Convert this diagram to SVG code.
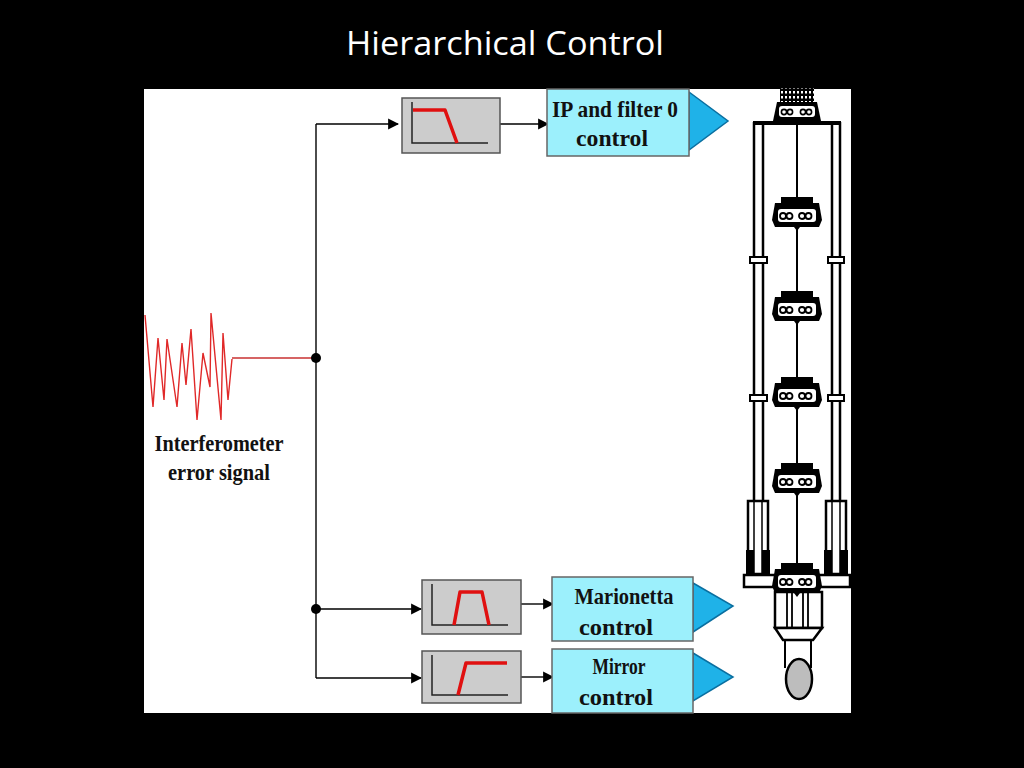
<svg xmlns="http://www.w3.org/2000/svg" xmlns:xlink="http://www.w3.org/1999/xlink" width="1024" height="768" viewBox="0 0 1024 768">
<style>
.title{font-family:"Comic Sans MS","Open Sans","DejaVu Sans",sans-serif;font-size:32px;fill:#ffffff}
.lbl{font-family:"Liberation Serif","Times New Roman",serif;font-weight:bold;font-size:24px;fill:#111111;text-anchor:middle}
.wire{stroke:#000;stroke-width:1.4;fill:none}
.filt{fill:#cccccc;stroke:#555;stroke-width:1.5}
.ax{stroke:#222;stroke-width:1.5;fill:none}
.resp{stroke:#e01010;stroke-width:3.5;fill:none;stroke-linejoin:round}
.ctl{fill:#9cf0fc;stroke:#666;stroke-width:1.5}
.tri{fill:#1fb2e8;stroke:#0a6fa0;stroke-width:1.5}
.blk{fill:#000}
.tw{stroke:#000;stroke-width:2.5;fill:none}
</style>
<defs>
<marker id="arr" viewBox="0 0 10 10" refX="9" refY="5" markerWidth="11" markerHeight="13" markerUnits="userSpaceOnUse" orient="auto">
<path d="M0,0 L10,5 L0,10 Z" fill="#000"/>
</marker>
<pattern id="hatch" width="4" height="5" patternUnits="userSpaceOnUse">
<rect width="4" height="5" fill="#000"/>
<rect x="1" y="1" width="2" height="2.5" fill="#fff"/>
</pattern>
<g id="mass">
<rect x="-16" y="0" width="32" height="6" fill="#000"/>
<path d="M-22,6 L22,6 L25,23 L22,30 L-22,30 L-25,23 Z" fill="#000"/>
<rect x="-19" y="12" width="38" height="13" rx="3" fill="#fff"/>
<circle cx="-14" cy="19" r="3" fill="#fff" stroke="#000" stroke-width="1.8"/>
<circle cx="-7.5" cy="19" r="3" fill="#fff" stroke="#000" stroke-width="1.8"/>
<circle cx="5" cy="19" r="3" fill="#fff" stroke="#000" stroke-width="1.8"/>
<circle cx="11.5" cy="19" r="3" fill="#fff" stroke="#000" stroke-width="1.8"/>
<path d="M-3,30 L3,30 L0,34 Z" fill="#000"/>
</g>
</defs>

<rect x="0" y="0" width="1024" height="768" fill="#000"/>
<text class="title" x="505" y="55" text-anchor="middle" textLength="318" lengthAdjust="spacingAndGlyphs">Hierarchical Control</text>
<rect x="144" y="89" width="707" height="624" fill="#fff"/>

<g id="signal">
<polyline points="145,315 153,407 158,338 164,400 167,339 177,407 182,343 186,385 191,329 197,420 203,353 210,387 211,313 221,420 223,333 228,400 232,359" fill="none" stroke="#e02828" stroke-width="1.4" stroke-linejoin="miter"/>
<text class="lbl" x="219" y="451" textLength="129" lengthAdjust="spacingAndGlyphs">Interferometer</text>
<text class="lbl" x="219" y="480" textLength="102" lengthAdjust="spacingAndGlyphs">error signal</text>
</g>

<g id="connectors">
<line x1="232" y1="358" x2="316" y2="358" stroke="#c83030" stroke-width="1.5"/>
<path class="wire" d="M316,124 V678"/>
<path class="wire" d="M316,124 H398" marker-end="url(#arr)"/>
<path class="wire" d="M316,609 H421" marker-end="url(#arr)"/>
<path class="wire" d="M316,678 H421" marker-end="url(#arr)"/>
<path class="wire" d="M500,124 H548" marker-end="url(#arr)"/>
<path class="wire" d="M521,604 H553" marker-end="url(#arr)"/>
<path class="wire" d="M521,677 H553" marker-end="url(#arr)"/>
<circle cx="316" cy="358" r="5" fill="#000"/>
<circle cx="316" cy="609" r="5" fill="#000"/>
</g>

<g id="filter-lowpass">
<rect class="filt" x="402" y="98" width="98" height="55"/>
<path class="ax" d="M412,102 V143 H488"/>
<path class="resp" d="M413,110 H445 L457,143"/>
</g>

<g id="filter-bandpass">
<rect class="filt" x="422" y="580" width="99" height="54"/>
<path class="ax" d="M432,584 V625 H508"/>
<path class="resp" d="M454,625 L460,592 H482 L489,625"/>
</g>

<g id="filter-highpass">
<rect class="filt" x="422" y="651" width="99" height="52"/>
<path class="ax" d="M432,655 V695 H508"/>
<path class="resp" d="M458,695 L466,663 H507"/>
</g>

<g id="ip-control">
<path class="tri" d="M689,92 L728,121 L689,150 Z"/>
<rect class="ctl" x="547" y="89" width="142" height="67"/>
<text class="lbl" x="615" y="117" textLength="126" lengthAdjust="spacingAndGlyphs">IP and filter 0</text>
<text class="lbl" x="612" y="146" textLength="72" lengthAdjust="spacingAndGlyphs">control</text>
</g>

<g id="marionetta-control">
<path class="tri" d="M693,583 L733,606 L693,632 Z"/>
<rect class="ctl" x="552" y="577" width="141" height="64"/>
<text class="lbl" x="624" y="604" textLength="99" lengthAdjust="spacingAndGlyphs">Marionetta</text>
<text class="lbl" x="616" y="635" textLength="74" lengthAdjust="spacingAndGlyphs">control</text>
</g>

<g id="mirror-control">
<path class="tri" d="M693,653 L733,677 L693,701 Z"/>
<rect class="ctl" x="552" y="649" width="141" height="64"/>
<text class="lbl" x="619" y="674" textLength="53" lengthAdjust="spacingAndGlyphs">Mirror</text>
<text class="lbl" x="616" y="705" textLength="74" lengthAdjust="spacingAndGlyphs">control</text>
</g>

<g id="suspension">
<!-- columns -->
<path class="tw" d="M754,122 V500 M763,122 V500 M832,122 V500 M840,122 V500"/>
<rect x="753" y="121" width="88" height="4" fill="#000"/>
<!-- clamps -->
<rect x="750" y="257" width="17" height="6" fill="#fff" stroke="#000" stroke-width="2"/>
<rect x="828" y="257" width="16" height="6" fill="#fff" stroke="#000" stroke-width="2"/>
<rect x="750" y="395" width="17" height="6" fill="#fff" stroke="#000" stroke-width="2"/>
<rect x="828" y="395" width="16" height="6" fill="#fff" stroke="#000" stroke-width="2"/>
<!-- central wire -->
<path d="M797,124 V563" stroke="#000" stroke-width="2"/>
<!-- top mass -->
<rect x="780" y="88" width="34" height="14" fill="url(#hatch)"/>
<path d="M777,102 L817,102 L821,121 L773,121 Z" fill="#000"/>
<rect x="779" y="106" width="36" height="11" rx="3" fill="#fff"/>
<circle cx="784" cy="112" r="2.6" fill="#fff" stroke="#000" stroke-width="1.6"/>
<circle cx="790" cy="112" r="2.6" fill="#fff" stroke="#000" stroke-width="1.6"/>
<circle cx="803" cy="112" r="2.6" fill="#fff" stroke="#000" stroke-width="1.6"/>
<circle cx="809" cy="112" r="2.6" fill="#fff" stroke="#000" stroke-width="1.6"/>
<!-- filters masses -->
<use xlink:href="#mass" href="#mass" x="797" y="197"/>
<use xlink:href="#mass" href="#mass" x="797" y="291"/>
<use xlink:href="#mass" href="#mass" x="797" y="377"/>
<use xlink:href="#mass" href="#mass" x="797" y="463"/>
<!-- legs -->
<rect x="748" y="501" width="20" height="73" fill="#fff" stroke="#000" stroke-width="2.5"/>
<path d="M754,501 V574 M762,501 V574" stroke="#000" stroke-width="1.5"/>
<rect x="746" y="550" width="8" height="24" fill="#000"/>
<rect x="762" y="550" width="8" height="24" fill="#000"/>
<rect x="826" y="501" width="20" height="73" fill="#fff" stroke="#000" stroke-width="2.5"/>
<path d="M832,501 V574 M840,501 V574" stroke="#000" stroke-width="1.5"/>
<rect x="824" y="550" width="8" height="24" fill="#000"/>
<rect x="840" y="550" width="8" height="24" fill="#000"/>
<!-- platform -->
<rect x="744" y="575" width="106" height="12" fill="#fff" stroke="#000" stroke-width="2.5"/>
<!-- marionetta -->
<rect x="775" y="592" width="47" height="36" fill="#fff" stroke="#000" stroke-width="2.5"/>
<path d="M787,592 V628 M792,592 V628 M803,592 V628 M808,592 V628" stroke="#000" stroke-width="1.8"/>
<path d="M775,628 L822,628 L813,640 L783,640 Z" fill="#fff" stroke="#000" stroke-width="2.5"/>
<use xlink:href="#mass" href="#mass" x="797" y="563"/>
<!-- reaction mass / mirror -->
<path d="M785,640 V668 M811,640 V668" stroke="#000" stroke-width="2"/>
<ellipse cx="799" cy="679" rx="13" ry="20" fill="#bdbdbd" stroke="#000" stroke-width="2.5"/>
</g>
</svg>
